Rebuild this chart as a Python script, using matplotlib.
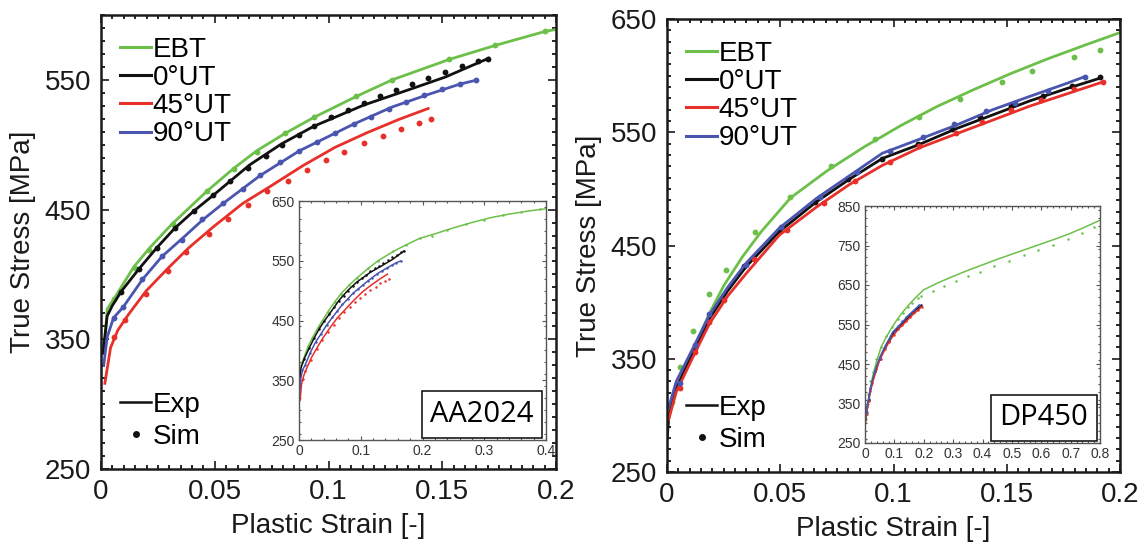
import matplotlib.pyplot as plt
from matplotlib.lines import Line2D
from matplotlib.ticker import MultipleLocator

plt.rcParams['font.family'] = ['Liberation Sans', 'DejaVu Sans']

series = ["EBT", "0°UT", "45°UT", "90°UT"]
colors = ["#6cc04a", "#111111", "#e8302a", "#4a55b0"]

# ---------------- AA2024 ----------------
aa_exp_x = [
    [0.0019, 0.0027, 0.0058, 0.0144, 0.0215, 0.0309, 0.0465, 0.0583, 0.0684, 0.0810, 0.0935, 0.1123,
     0.1280, 0.1530, 0.1734, 0.1953, 0.22, 0.25, 0.28, 0.31, 0.34, 0.37, 0.40],
    [0.0008, 0.0027, 0.0050, 0.0089, 0.0168, 0.0246, 0.0324, 0.0410, 0.0496, 0.0653, 0.0794, 0.0935,
     0.1154, 0.1358, 0.1514, 0.1710],
    [0.0016, 0.0042, 0.0074, 0.0121, 0.0199, 0.0293, 0.0387, 0.0496, 0.0622, 0.0747, 0.0888, 0.1029,
     0.1170, 0.1311, 0.1444],
    [0.0011, 0.0027, 0.0055, 0.0097, 0.0183, 0.0269, 0.0356, 0.0449, 0.0536, 0.0700, 0.0872, 0.1107,
     0.1280, 0.1436, 0.1577, 0.1655],
]
aa_exp_y = [
    [351.6, 373.3, 381.4, 405.8, 420.7, 438.3, 464.1, 481.7, 495.3, 508.8, 521.0, 537.3,
     550.0, 565.7, 576.6, 587.4, 595, 605, 614, 622, 628, 633, 637],
    [338.1, 367.9, 376.0, 386.9, 404.5, 420.7, 435.6, 449.2, 461.4, 484.4, 500.7, 514.2,
     530.5, 542.7, 552.2, 567.1],
    [315.0, 343.5, 357.0, 369.2, 387.4, 404.5, 420.7, 437.0, 454.6, 468.2, 483.9, 498.0,
     509.3, 519.6, 528.3],
    [328.6, 351.6, 366.5, 374.7, 396.3, 414.0, 427.5, 442.4, 454.6, 476.3, 495.3, 515.6,
     529.1, 538.6, 546.7, 550.0],
]
aa_sim_x = [
    [0.0055, 0.0149, 0.0211, 0.0316, 0.0465, 0.0583, 0.0684, 0.0810, 0.0935, 0.1123, 0.1280, 0.1530,
     0.1734, 0.1953, 0.215, 0.24, 0.27, 0.30, 0.33, 0.36, 0.39],
    [0.0089, 0.0168, 0.0246, 0.0324, 0.0410, 0.0492, 0.0567, 0.0645, 0.0724, 0.0794, 0.0869, 0.0938,
     0.1013, 0.1084, 0.1157, 0.1225, 0.1295, 0.1366, 0.1436, 0.1514, 0.1585, 0.1655, 0.1702],
    [0.0058, 0.0105, 0.0199, 0.0293, 0.0374, 0.0473, 0.0559, 0.0645, 0.0731, 0.0822, 0.0907, 0.0990,
     0.1068, 0.1154, 0.1240, 0.1319, 0.1397, 0.1452],
    [0.0055, 0.0097, 0.0180, 0.0269, 0.0356, 0.0446, 0.0536, 0.0622, 0.0700, 0.0786, 0.0869, 0.0951,
     0.1029, 0.1110, 0.1186, 0.1267, 0.1342, 0.1421, 0.1499, 0.1577, 0.1648],
]
aa_sim_y = [
    [380.9, 405.3, 418.8, 438.9, 464.1, 481.2, 494.7, 508.8, 521.0, 537.3, 550.0, 565.7,
     576.6, 587.4, 592, 602, 611, 619, 626, 631, 636],
    [386.3, 404.5, 420.7, 435.6, 449.2, 461.4, 472.2, 482.2, 491.2, 500.1, 507.5, 514.8,
     521.0, 526.4, 532.4, 537.3, 541.9, 546.7, 551.6, 556.2, 560.3, 564.4, 566.3],
    [351.6, 365.2, 384.7, 402.6, 417.2, 430.8, 443.0, 453.8, 464.1, 472.2, 480.4, 487.9,
     494.7, 501.2, 506.6, 512.1, 516.9, 519.6],
    [366.5, 374.7, 396.3, 414.0, 426.7, 442.4, 455.1, 466.0, 476.8, 486.6, 495.3, 502.0,
     509.3, 515.6, 521.0, 527.2, 532.6, 538.1, 542.7, 546.7, 550.0],
]

# ---------------- DP450 ----------------
dp_exp_x = [
    [0.0005, 0.0016, 0.0057, 0.0122, 0.0187, 0.0252, 0.0333, 0.0415, 0.0545, 0.0707, 0.0870, 0.1033,
     0.1195, 0.1358, 0.1520, 0.1683, 0.1846, 0.2000, 0.25, 0.30, 0.35, 0.40, 0.45, 0.50, 0.55, 0.60,
     0.65, 0.70, 0.75, 0.80],
    [0.0000, 0.0008, 0.0041, 0.0122, 0.0187, 0.0268, 0.0350, 0.0496, 0.0659, 0.0805, 0.0951, 0.1114,
     0.1276, 0.1439, 0.1602, 0.1764, 0.1911],
    [0.0005, 0.0041, 0.0122, 0.0187, 0.0268, 0.0350, 0.0496, 0.0659, 0.0805, 0.0951, 0.1114,
     0.1276, 0.1439, 0.1602, 0.1764, 0.1927],
    [0.0005, 0.0041, 0.0122, 0.0187, 0.0268, 0.0350, 0.0496, 0.0659, 0.0805, 0.0951, 0.1114,
     0.1276, 0.1439, 0.1602, 0.1764, 0.1846],
]
dp_exp_y = [
    [293.0, 308.5, 330.0, 360.0, 390.0, 415.0, 440.0, 462.0, 492.0, 516.0, 537.0, 556.0,
     573.0, 588.0, 602.0, 615.0, 627.0, 638.0, 656, 672, 687, 701, 715, 728, 741, 754,
     767, 781, 797, 814],
    [277.7, 299.0, 323.8, 359.2, 385.4, 410.0, 431.5, 462.3, 488.5, 508.5, 526.9, 539.2,
     553.1, 565.4, 577.7, 588.5, 597.7],
    [294.6, 320.8, 354.6, 380.8, 405.4, 425.4, 459.2, 483.8, 503.8, 520.8, 536.2,
     548.5, 560.8, 573.1, 583.8, 594.6],
    [305.4, 330.0, 362.3, 388.5, 413.1, 434.6, 465.4, 491.5, 511.5, 531.5, 543.8,
     556.2, 570.0, 581.7, 593.1, 599.2],
]
dp_sim_x = [
    [0.0024, 0.0057, 0.0114, 0.0187, 0.0260, 0.0390, 0.0545, 0.0724, 0.0919, 0.1114, 0.1293, 0.1480,
     0.1610, 0.1797, 0.1911, 0.23, 0.27, 0.31, 0.35, 0.39, 0.44, 0.49, 0.54, 0.59, 0.64, 0.69,
     0.74, 0.78],
    [0.0122, 0.0341, 0.0496, 0.0655, 0.0800, 0.0951, 0.1106, 0.1260, 0.1382, 0.1520, 0.1659,
     0.1789, 0.1911],
    [0.0057, 0.0122, 0.0187, 0.0252, 0.0382, 0.0528, 0.0691, 0.0829, 0.0984, 0.1114, 0.1276,
     0.1390, 0.1520, 0.1650, 0.1797, 0.1927],
    [0.0057, 0.0122, 0.0187, 0.0350, 0.0504, 0.0675, 0.0837, 0.0984, 0.1130, 0.1268, 0.1407,
     0.1537, 0.1683, 0.1846],
]
dp_sim_y = [
    [311.5, 342.3, 374.6, 406.9, 428.5, 462.3, 492.5, 520.2, 543.8, 563.8, 579.8, 594.0,
     603.8, 616.2, 622.9, 636, 648, 660, 672, 684, 698, 712, 726, 739, 752, 766,
     781, 796],
    [359.2, 432.2, 462.9, 488.5, 508.5, 526.3, 539.8, 553.1, 563.8, 573.1, 581.7,
     590.9, 599.2],
    [323.8, 356.2, 382.3, 402.3, 437.7, 463.8, 487.5, 506.9, 523.8, 537.7, 549.1,
     559.2, 570.0, 578.6, 587.8, 594.6],
    [328.5, 362.3, 389.1, 433.1, 466.3, 492.5, 514.6, 533.1, 546.0, 557.7, 568.5,
     576.2, 586.0, 599.2],
]

W, H = 1148, 550
fig = plt.figure(figsize=(W / 100, H / 100), dpi=100)


def px(x0, y0, x1, y1):
    return [x0 / W, 1 - y1 / H, (x1 - x0) / W, (y1 - y0) / H]


def style_main(ax, yticks, ytop):
    ax.set_xlim(0, 0.2)
    ax.set_ylim(250, ytop)
    ax.set_xticks([0, 0.05, 0.1, 0.15, 0.2])
    ax.set_xticklabels(["0", "0.05", "0.1", "0.15", "0.2"])
    ax.set_yticks(yticks)
    ax.xaxis.set_minor_locator(MultipleLocator(0.005))
    ax.yaxis.set_minor_locator(MultipleLocator(10))
    ax.tick_params(which="both", direction="in", top=True, right=True, width=1.2)
    ax.tick_params(which="major", length=6, labelsize=20, pad=7, colors="#1a1a1a")
    ax.tick_params(which="minor", length=3)
    for s in ax.spines.values():
        s.set_linewidth(1.8)
        s.set_color("#1a1a1a")
    ax.set_xlabel("Plastic Strain [-]", fontsize=20, color="#1a1a1a", labelpad=6)
    ax.set_ylabel("True Stress [MPa]", fontsize=20, color="#1a1a1a", labelpad=6)


def style_inset(ax, xmax, yticks):
    ax.set_xlim(0, xmax)
    ax.set_ylim(yticks[0], yticks[-1])
    ax.set_yticks(yticks)
    ax.xaxis.set_major_locator(MultipleLocator(0.1))
    ax.xaxis.set_minor_locator(MultipleLocator(0.02))
    ax.yaxis.set_minor_locator(MultipleLocator(20))
    ax.xaxis.set_major_formatter(lambda v, p: "0" if v == 0 else f"{v:g}")
    ax.tick_params(which="both", direction="in", top=True, right=True, width=0.8, colors="#555555")
    ax.tick_params(which="major", length=3, labelsize=10, pad=3, labelcolor="#333333")
    ax.tick_params(which="minor", length=1.5)
    for s in ax.spines.values():
        s.set_linewidth(1.0)
        s.set_color("#555555")


def draw(ax, ex, ey, sx, sy, lw, ms):
    for i in range(4):
        ax.plot(ex[i], ey[i], color=colors[i], lw=lw, solid_capstyle="butt")
        ax.plot(sx[i], sy[i], "o", color=colors[i], ms=ms, mec="none")


def legends(ax):
    h1 = [Line2D([], [], color=c, lw=2.2) for c in colors]
    leg1 = ax.legend(h1, series, loc="upper left", bbox_to_anchor=(0.0, 0.995), frameon=False,
                     fontsize=20, handlelength=1.1, handletextpad=0.05, labelspacing=0.08,
                     borderaxespad=0.3)
    ax.add_artist(leg1)
    h2 = [Line2D([], [], color="#111111", lw=1.8),
          Line2D([], [], color="#111111", ls="none", marker="o", ms=4)]
    ax.legend(h2, ["Exp", "Sim"], loc="lower left", bbox_to_anchor=(0.0, 0.0), frameon=False,
              fontsize=20, handlelength=1.1, handletextpad=0.05, labelspacing=0.2,
              borderaxespad=0.3)


def tag(ax, text):
    ax.text(0.95, 0.045, text, transform=ax.transAxes, ha="right", va="bottom",
            fontsize=21, family="Open Sans",
            bbox=dict(boxstyle="square,pad=0.3", fc="white", ec="#1a1a1a", lw=1.2))


# left panel
ax1 = fig.add_axes(px(101, 15, 556, 469))
draw(ax1, aa_exp_x, aa_exp_y, aa_sim_x, aa_sim_y, 2.0, 4.2)
style_main(ax1, [250, 350, 450, 550], 600)
legends(ax1)

in1 = fig.add_axes(px(299, 201, 546, 440))
draw(in1, aa_exp_x, aa_exp_y, aa_sim_x, aa_sim_y, 1.1, 1.8)
style_inset(in1, 0.4, [250, 350, 450, 550, 650])
tag(in1, "AA2024")

# right panel
ax2 = fig.add_axes(px(667, 19, 1120, 472))
draw(ax2, dp_exp_x, dp_exp_y, dp_sim_x, dp_sim_y, 2.0, 4.2)
style_main(ax2, [250, 350, 450, 550, 650], 650)
legends(ax2)

in2 = fig.add_axes(px(865, 206, 1100, 443))
draw(in2, dp_exp_x, dp_exp_y, dp_sim_x, dp_sim_y, 1.1, 1.8)
style_inset(in2, 0.8, [250, 350, 450, 550, 650, 750, 850])
tag(in2, "DP450")

fig.savefig("out.png", dpi=100)
